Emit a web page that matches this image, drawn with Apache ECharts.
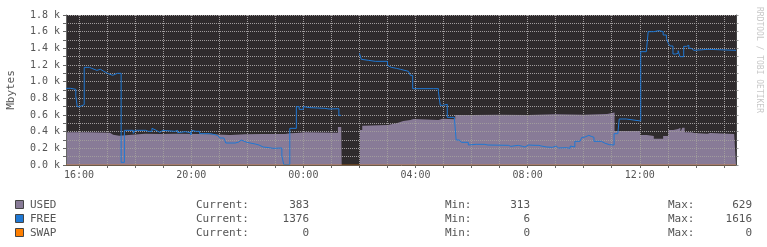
<!DOCTYPE html>
<html><head><meta charset="utf-8">
<script src="https://cdn.jsdelivr.net/npm/echarts@6/dist/echarts.min.js"></script>
<style>html,body{margin:0;padding:0;background:#fff}#c{width:767px;height:247px}</style>
</head><body><div id="c"></div>
<script>
// FREE memory (Mbytes) change points
const freeTimes = ["15:32","15:42","15:53","15:56","16:01","16:11","16:22","16:27","16:31","16:38","16:46","16:53","16:57","17:01","17:12","17:16","17:22","17:26","17:30","17:37","17:56","18:00","18:23","18:28","18:32","18:36","18:40","18:45","18:49","18:53","18:59","19:25","19:31","19:35","19:47","19:59","20:01","20:05","20:10","20:14","20:18","20:40","20:51","20:57","21:01","21:10","21:14","21:34","21:38","21:42","21:47","21:51","21:59","22:17","22:25","22:29","22:34","22:47","22:55","22:59","23:14","23:18","23:31","23:45","23:51","00:00","00:04","00:14","00:46","00:50","00:55","01:16","01:21","01:22","02:00","02:04","02:08","02:19","02:34","02:38","03:00","03:04","03:08","03:19","03:28","03:45","03:49","03:54","04:39","04:43","04:49","04:53","04:58","05:08","05:23","05:27","05:34","05:38","05:53","05:57","06:10","06:14","06:27","06:31","06:35","07:19","07:24","07:40","07:44","07:49","07:54","07:58","08:02","08:16","08:20","08:24","08:29","08:41","08:53","08:57","09:01","09:06","09:23","09:31","09:35","09:41","09:52","09:56","10:01","10:05","10:11","10:16","10:22","10:38","10:42","10:46","10:55","11:05","11:13","11:16","11:31","12:02","12:14","12:18","12:30","12:41","12:50","12:57","13:01","13:05","13:11","13:17","13:22","13:26","13:34","13:40","13:45","13:50","13:56","14:26","15:26"];
const freeValues = [920,908,832,700,724,1172,1160,1148,1136,1148,1124,1136,1100,1076,1088,1100,1076,1100,32,416,380,416,404,416,404,440,416,440,392,416,404,416,388,400,388,360,416,404,416,404,376,364,352,340,324,300,264,288,276,300,276,272,252,240,228,216,208,200,192,204,108,6,440,700,668,700,688,680,688,672,676,596,596,null,1340,1268,1256,1244,1256,1244,1196,1172,1160,1148,1124,1100,1076,916,928,916,880,716,728,572,560,300,288,272,240,248,240,248,256,240,236,224,236,248,224,216,228,240,236,228,236,228,216,212,204,228,204,208,200,228,216,284,308,332,344,356,344,332,284,272,260,244,240,376,356,552,528,1360,1352,1600,1612,1600,1560,1520,1460,1428,1332,1340,1372,1300,1424,1436,1400,1376,1388,1376,1376];

// USED memory (Mbytes) change points
const usedTimes = ["15:32","16:20","17:06","17:13","17:26","17:30","18:21","18:53","19:30","20:19","20:45","21:23","21:55","22:32","23:21","23:31","23:45","00:04","01:14","01:21","01:22","02:01","02:06","02:10","03:01","03:21","03:25","03:34","03:49","03:56","04:49","04:58","05:25","06:00","07:00","08:00","09:00","10:00","10:50","10:58","11:06","12:01","12:15","12:30","12:50","13:01","13:12","13:22","13:27","13:31","13:36","13:50","13:57","14:25","14:30","15:22","15:26"];
const usedValues = [392,388,364,352,356,376,372,376,372,368,360,368,372,372,380,384,392,388,456,456,null,420,472,480,504,516,528,540,552,540,556,548,600,604,600,608,604,612,620,629,408,360,348,316,348,420,432,448,392,448,392,384,376,384,372,384,383];

// SWAP
const swapTimes = ["15:32","15:26"];
const swapValues = [0,0];

const xLabelHours = [16,20,24,28,32,36];
const xTickHours = [16,17,18,19,20,21,22,23,24,25,26,27,28,29,30,31,32,33,34,35,36,37,38,39];

const legendNames = ["USED","FREE","SWAP"];
const legendColors = ["#887b97","#1f78d4","#ff7f00"];
const statCurrent = [383,1376,0];
const statMin = [313,6,0];
const statMax = [629,1616,0];

function toHours(times){
  let day=0, prev=-1;
  return times.map(t=>{const p=t.split(':').map(Number); let v=p[0]+p[1]/60; if(v+day<prev) day+=24; v+=day; prev=v; return v;});
}
function pairs(times, vals){ const h=toHours(times); return h.map((x,i)=>[x, vals[i]]); }

const xMin = 15 + 32/60, xMax = 39 + 27/60;
const mono = 'DejaVu Sans Mono';
const gridCol = '#a09c9d';

const chart = echarts.init(document.getElementById('c'), null, {renderer:'canvas'});

const graphics = [];
graphics.push({type:'text', x:11, y:90, rotation:Math.PI/2, style:{text:'Mbytes', x:0, y:0, font:'11px "'+mono+'"', fill:'#555', textAlign:'center', textVerticalAlign:'middle'}});
graphics.push({type:'text', x:759, y:60, rotation:-Math.PI/2, style:{text:'RRDTOOL / TOBI OETIKER', x:0, y:0, font:'8px "'+mono+'"', fill:'#c8c8c8', textAlign:'center', textVerticalAlign:'middle'}});
const rowY = [205,219,233];
legendNames.forEach((n,i)=>{
  const y = rowY[i];
  graphics.push({type:'rect', shape:{x:15.5, y:y-4.5, width:8, height:8}, style:{fill:legendColors[i], stroke:'#444', lineWidth:1}});
  const f = '11px "'+mono+'"';
  graphics.push({type:'text', style:{text:n, x:30, y:y, font:f, fill:'#555', textAlign:'left', textVerticalAlign:'middle'}});
  graphics.push({type:'text', style:{text:'Current:', x:196, y:y, font:f, fill:'#555', textAlign:'left', textVerticalAlign:'middle'}});
  graphics.push({type:'text', style:{text:String(statCurrent[i]), x:309, y:y, font:f, fill:'#555', textAlign:'right', textVerticalAlign:'middle'}});
  graphics.push({type:'text', style:{text:'Min:', x:445, y:y, font:f, fill:'#555', textAlign:'left', textVerticalAlign:'middle'}});
  graphics.push({type:'text', style:{text:String(statMin[i]), x:530, y:y, font:f, fill:'#555', textAlign:'right', textVerticalAlign:'middle'}});
  graphics.push({type:'text', style:{text:'Max:', x:668, y:y, font:f, fill:'#555', textAlign:'left', textVerticalAlign:'middle'}});
  graphics.push({type:'text', style:{text:String(statMax[i]), x:752, y:y, font:f, fill:'#555', textAlign:'right', textVerticalAlign:'middle'}});
});

chart.setOption({
  animation:false,
  backgroundColor:'#ffffff',
  grid:{left:66, right:30.5, top:15, bottom:82, show:true, backgroundColor:'#2f2b2d', borderWidth:0},
  xAxis:[{
    type:'value', min:xMin, max:xMax, z:2,
    axisLine:{show:true, lineStyle:{color:'#555'}},
    axisTick:{show:true, length:3, customValues:xTickHours, lineStyle:{color:'#666'}},
    axisLabel:{customValues:xLabelHours, fontFamily:mono, fontSize:10, color:'#555', margin:5,
      formatter:v=>String(Math.round(v)%24).padStart(2,'0')+':00'},
    splitLine:{show:true, lineStyle:{color:gridCol, type:[1,1], width:1}}
  }],
  yAxis:[{
    type:'value', min:0, max:1800, interval:200, z:2,
    axisLine:{show:true, lineStyle:{color:'#666'}},
    axisTick:{show:true, length:3, lineStyle:{color:'#666'}},
    minorTick:{show:true, splitNumber:2, length:3, lineStyle:{color:'#666'}},
    axisLabel:{fontFamily:mono, fontSize:10, color:'#555', margin:6, formatter:v=>(v/1000).toFixed(1)+' k'},
    splitLine:{show:true, lineStyle:{color:gridCol, type:[1,1], width:1}},
    minorSplitLine:{show:true, lineStyle:{color:gridCol, type:[1,1], width:1}}
  },{
    type:'value', min:0, max:1800, interval:200, position:'right', z:2,
    axisLine:{show:true, lineStyle:{color:'#444'}},
    axisTick:{show:true, length:2, lineStyle:{color:'#999'}},
    minorTick:{show:true, splitNumber:2, length:2, lineStyle:{color:'#999'}},
    axisLabel:{show:false}, splitLine:{show:false}
  }],
  graphic: graphics,
  series:[
    {name:'USED', type:'line', step:'end', z:1, symbol:'none', data:pairs(usedTimes, usedValues),
      lineStyle:{width:0}, areaStyle:{color:legendColors[0], opacity:1}, connectNulls:false},
    {name:'FREE', type:'line', step:'end', z:3, symbol:'none', data:pairs(freeTimes, freeValues),
      lineStyle:{width:1, color:legendColors[1]}, connectNulls:false},
    {name:'SWAP', type:'line', z:3, symbol:'none', data:pairs(swapTimes, swapValues),
      lineStyle:{width:1, color:'#ff7f00', opacity:0.5}}
  ]
});
</script></body></html>
